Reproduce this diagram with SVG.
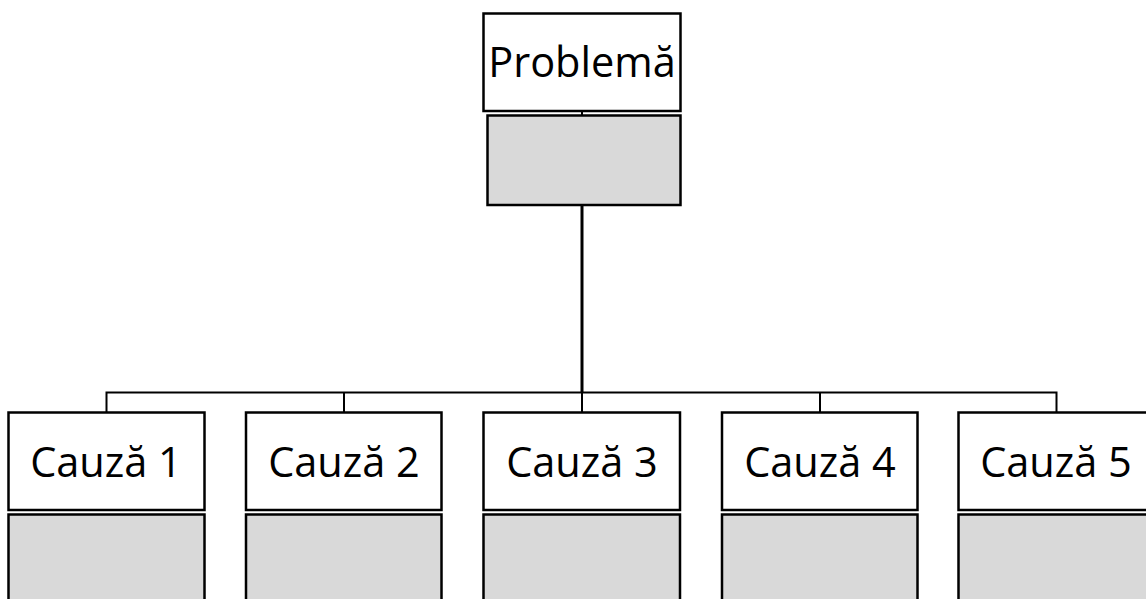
<svg xmlns="http://www.w3.org/2000/svg" width="1146" height="599" viewBox="0 0 1146 599">
<style>
.w{fill:#ffffff;stroke:#000000;stroke-width:2.5}
.g{fill:#d9d9d9;stroke:#000000;stroke-width:2.5}
.t{font-family:"Open Sans","Liberation Sans",sans-serif;font-size:41.5px;fill:#000000;text-anchor:middle}
.c{fill:none;stroke:#000000;stroke-width:2}
</style>
<rect width="1146" height="599" fill="#ffffff"/>
<g id="connectors">
<line class="c" x1="582" y1="111" x2="582" y2="115"/>
<line class="c" x1="582" y1="205" x2="582" y2="393" style="stroke-width:3"/>
<polyline class="c" points="106.5,412 106.5,392.5 1056.5,392.5 1056.5,412"/>
<line class="c" x1="344" y1="392.5" x2="344" y2="412"/>
<line class="c" x1="582" y1="392.5" x2="582" y2="412"/>
<line class="c" x1="820" y1="392.5" x2="820" y2="412"/>
</g>
<g id="problema">
<rect class="w" x="483.5" y="13.5" width="197" height="97.5"/>
<text class="t" x="582" y="76.5">Problemă</text>
</g>
<g id="problema-detail">
<rect class="g" x="487.5" y="115.5" width="193" height="89.5"/>
</g>
<g id="cauza1">
<rect class="w" x="8.5" y="412.5" width="196" height="97.5"/>
<text class="t" x="106" y="476.5">Cauză 1</text>
<rect class="g" x="8.5" y="514.5" width="196" height="95"/>
</g>
<g id="cauza2">
<rect class="w" x="246" y="412.5" width="195.5" height="97.5"/>
<text class="t" x="344" y="476.5">Cauză 2</text>
<rect class="g" x="246" y="514.5" width="195.5" height="95"/>
</g>
<g id="cauza3">
<rect class="w" x="483.5" y="412.5" width="196.5" height="97.5"/>
<text class="t" x="582" y="476.5">Cauză 3</text>
<rect class="g" x="483.5" y="514.5" width="196.5" height="95"/>
</g>
<g id="cauza4">
<rect class="w" x="722" y="412.5" width="195.5" height="97.5"/>
<text class="t" x="820" y="476.5">Cauză 4</text>
<rect class="g" x="722" y="514.5" width="195.5" height="95"/>
</g>
<g id="cauza5">
<rect class="w" x="958.5" y="412.5" width="196" height="97.5"/>
<text class="t" x="1056" y="476.5">Cauză 5</text>
<rect class="g" x="958.5" y="514.5" width="196" height="95"/>
</g>
</svg>
